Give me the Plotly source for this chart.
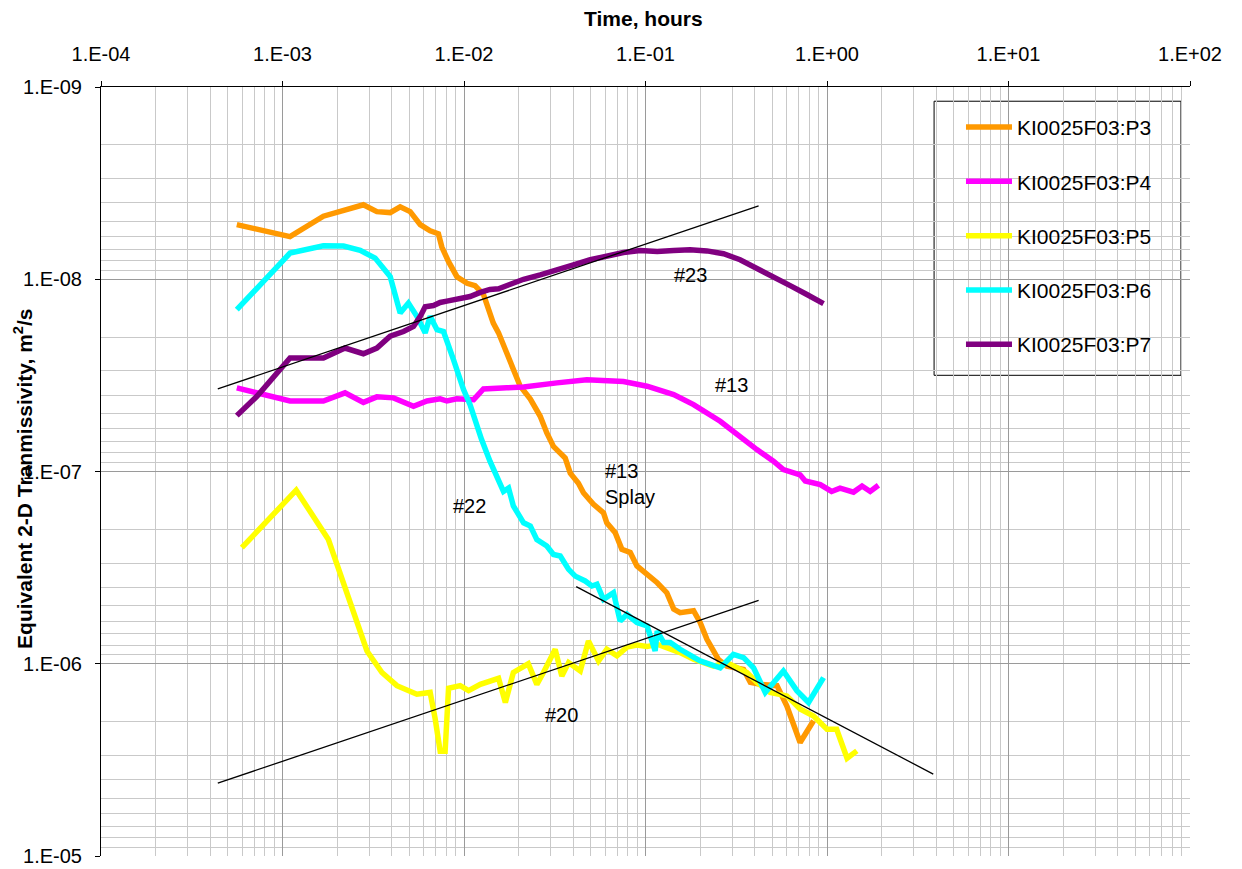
import math
import plotly.graph_objects as go

# ---- data: time (hours) vs equivalent 2-D transmissivity (m2/s) ----
p3_t = [5.6e-4, 1.1e-3, 1.68e-3, 2.26e-3, 2.79e-3, 3.31e-3, 3.92e-3, 4.45e-3, 5.05e-3, 5.74e-3,
        6.51e-3, 7.23e-3, 7.55e-3, 8.22e-3, 9.14e-3, 1.04e-2, 1.15e-2, 1.28e-2, 1.45e-2, 1.55e-2,
        1.72e-2, 2.04e-2, 2.32e-2, 2.63e-2, 2.86e-2, 3.11e-2, 3.61e-2, 3.85e-2, 4.27e-2, 4.55e-2,
        5.17e-2, 5.87e-2, 6.12e-2, 6.81e-2, 7.41e-2, 8.24e-2, 8.97e-2, 1.02e-1, 1.16e-1, 1.31e-1,
        1.43e-1, 1.55e-1, 1.84e-1, 2.0e-1, 2.18e-1, 2.52e-1, 2.81e-1, 3.47e-1, 3.78e-1, 4.29e-1,
        5.3e-1, 6.01e-1, 7.11e-1, 8.43e-1]
p3_T = [5.2e-9, 6.0e-9, 4.7e-9, 4.3e-9, 4.1e-9, 4.45e-9, 4.5e-9, 4.2e-9, 4.45e-9, 5.2e-9,
        5.6e-9, 5.8e-9, 6.8e-9, 8.1e-9, 9.7e-9, 1.05e-8, 1.08e-8, 1.2e-8, 1.69e-8, 1.9e-8,
        2.42e-8, 3.6e-8, 4.2e-8, 5.16e-8, 6.3e-8, 7.4e-8, 8.5e-8, 1.02e-7, 1.15e-7, 1.29e-7,
        1.48e-7, 1.64e-7, 1.85e-7, 2.08e-7, 2.54e-7, 2.64e-7, 3.1e-7, 3.43e-7, 3.79e-7, 4.27e-7,
        5.2e-7, 5.42e-7, 5.3e-7, 6.1e-7, 7.46e-7, 9.5e-7, 1.03e-6, 1.07e-6, 1.25e-6, 1.28e-6,
        1.3e-6, 1.66e-6, 2.57e-6, 1.98e-6]

p4_t = [5.6e-4, 1.1e-3, 1.68e-3, 2.21e-3, 2.79e-3, 3.31e-3, 4.09e-3, 5.27e-3, 6.25e-3, 7.39e-3,
        8.05e-3, 9.14e-3, 1.13e-2, 1.28e-2, 1.72e-2, 2.13e-2, 3.25e-2, 4.75e-2, 7.56e-2, 1.02e-1,
        1.43e-1, 1.84e-1, 2.58e-1, 3.19e-1, 4.11e-1, 5.07e-1, 5.75e-1, 7.11e-1, 7.59e-1, 9.18e-1,
        1.06, 1.18, 1.4, 1.56, 1.73, 1.92]
p4_T = [3.67e-8, 4.3e-8, 4.3e-8, 3.9e-8, 4.37e-8, 4.09e-8, 4.14e-8, 4.58e-8, 4.3e-8, 4.19e-8,
        4.3e-8, 4.19e-8, 4.23e-8, 3.72e-8, 3.67e-8, 3.63e-8, 3.46e-8, 3.33e-8, 3.4e-8, 3.6e-8,
        3.98e-8, 4.49e-8, 5.48e-8, 6.43e-8, 7.69e-8, 8.84e-8, 9.77e-8, 1.04e-7, 1.12e-7, 1.17e-7,
        1.27e-7, 1.22e-7, 1.28e-7, 1.19e-7, 1.27e-7, 1.18e-7]

p5_t = [5.97e-4, 1.19e-3, 1.79e-3, 2.92e-3, 3.53e-3, 4.27e-3, 5.5e-3, 6.51e-3, 6.94e-3, 7.39e-3,
        7.87e-3, 8.22e-3, 9.53e-3, 1.06e-2, 1.23e-2, 1.39e-2, 1.55e-2, 1.69e-2, 1.87e-2, 2.26e-2,
        2.52e-2, 2.74e-2, 3.18e-2, 3.46e-2, 3.77e-2, 4.37e-2, 4.85e-2, 5.51e-2, 6.12e-2, 6.96e-2,
        7.9e-2, 8.97e-2, 1.02e-1, 1.16e-1, 1.31e-1, 1.55e-1, 1.84e-1, 2.37e-1, 2.81e-1, 3.62e-1,
        4.11e-1, 4.86e-1, 6.01e-1, 7.11e-1, 8.43e-1, 1.0, 1.13, 1.29, 1.46]
p5_T = [2.49e-7, 1.25e-7, 2.26e-7, 8.58e-7, 1.11e-6, 1.3e-6, 1.44e-6, 1.41e-6, 1.94e-6, 2.85e-6,
        2.85e-6, 1.34e-6, 1.3e-6, 1.38e-6, 1.28e-6, 1.23e-6, 1.19e-6, 1.59e-6, 1.11e-6, 1.0e-6,
        1.28e-6, 1.11e-6, 8.41e-7, 1.16e-6, 9.86e-7, 1.09e-6, 7.61e-7, 9.67e-7, 8.41e-7, 9.1e-7,
        8.2e-7, 8.0e-7, 8.14e-7, 7.92e-7, 8.2e-7, 8.75e-7, 9.48e-7, 1.03e-6, 9.86e-7, 1.11e-6,
        1.25e-6, 1.41e-6, 1.47e-6, 1.72e-6, 1.87e-6, 2.19e-6, 2.19e-6, 3.1e-6, 2.84e-6]

p6_t = [5.6e-4, 1.1e-3, 1.68e-3, 2.17e-3, 2.68e-3, 3.24e-3, 3.92e-3, 4.45e-3, 4.94e-3, 5.5e-3,
        6.11e-3, 6.51e-3, 7.1e-3, 7.71e-3, 8.75e-3, 9.94e-3, 1.08e-2, 1.18e-2, 1.25e-2, 1.39e-2,
        1.49e-2, 1.65e-2, 1.76e-2, 1.87e-2, 2.13e-2, 2.32e-2, 2.52e-2, 2.86e-2, 3.11e-2, 3.39e-2,
        3.77e-2, 4.1e-2, 4.65e-2, 5.07e-2, 5.4e-2, 5.87e-2, 6.66e-2, 7.25e-2, 7.9e-2, 8.97e-2,
        1.02e-1, 1.13e-1, 1.16e-1, 1.26e-1, 1.37e-1, 1.55e-1, 2.0e-1, 2.58e-1, 3.05e-1, 3.47e-1,
        3.94e-1, 4.57e-1, 5.75e-1, 6.82e-1, 7.91e-1, 9.57e-1]
p6_T = [1.44e-8, 7.31e-9, 6.7e-9, 6.72e-9, 7.08e-9, 7.76e-9, 9.67e-9, 1.5e-8, 1.33e-8, 1.56e-8,
        1.9e-8, 1.56e-8, 1.83e-8, 1.87e-8, 2.62e-8, 3.75e-8, 4.49e-8, 5.93e-8, 6.82e-8, 8.84e-8,
        1.02e-7, 1.27e-7, 1.22e-7, 1.51e-7, 1.85e-7, 1.92e-7, 2.26e-7, 2.44e-7, 2.7e-7, 2.75e-7,
        3.23e-7, 3.5e-7, 3.71e-7, 3.94e-7, 3.86e-7, 4.62e-7, 4.27e-7, 6.0e-7, 5.53e-7, 6.1e-7,
        6.36e-7, 8.58e-7, 6.76e-7, 7.76e-7, 7.76e-7, 8.41e-7, 9.67e-7, 1.05e-6, 8.93e-7, 9.29e-7,
        1.05e-6, 1.41e-6, 1.09e-6, 1.38e-6, 1.59e-6, 1.18e-6]

p7_t = [5.6e-4, 7.23e-4, 1.1e-3, 1.68e-3, 2.21e-3, 2.79e-3, 3.31e-3, 3.92e-3, 4.64e-3, 5.27e-3,
        5.74e-3, 6.11e-3, 6.79e-3, 7.39e-3, 8.05e-3, 9.53e-3, 1.08e-2, 1.23e-2, 1.39e-2, 1.55e-2,
        1.72e-2, 2.13e-2, 2.63e-2, 3.25e-2, 4.01e-2, 4.96e-2, 6.12e-2, 7.56e-2, 9.35e-2, 1.16e-1,
        1.43e-1, 1.76e-1, 2.18e-1, 2.69e-1, 3.32e-1, 4.11e-1, 5.07e-1, 6.27e-1, 7.75e-1, 9.57e-1]
p7_T = [5.12e-8, 4.06e-8, 2.57e-8, 2.57e-8, 2.28e-8, 2.44e-8, 2.28e-8, 1.98e-8, 1.87e-8, 1.76e-8,
        1.56e-8, 1.39e-8, 1.37e-8, 1.32e-8, 1.3e-8, 1.25e-8, 1.23e-8, 1.17e-8, 1.13e-8, 1.12e-8,
        1.08e-8, 1.0e-8, 9.48e-9, 8.85e-9, 8.41e-9, 7.92e-9, 7.55e-9, 7.26e-9, 7.08e-9, 7.17e-9,
        7.08e-9, 7.03e-9, 7.12e-9, 7.37e-9, 7.92e-9, 8.75e-9, 9.67e-9, 1.08e-8, 1.2e-8, 1.34e-8]

# straight-line (power-law) fits, end points
fit23_t = [4.4e-4, 4.2e-1]
fit23_T = [3.72e-8, 4.15e-9]
fit20_t = [4.4e-4, 4.2e-1]
fit20_T = [4.18e-6, 4.68e-7]
fit13_t = [4.15e-2, 3.85]
fit13_T = [3.97e-7, 3.75e-6]

series_names = ["KI0025F03:P3", "KI0025F03:P4", "KI0025F03:P5", "KI0025F03:P6", "KI0025F03:P7"]
series_colors = ["#FF9900", "#FF00FF", "#FFFF00", "#00FFFF", "#800080"]

x_tick_vals = [1e-4, 1e-3, 1e-2, 1e-1, 1e0, 1e1, 1e2]
x_tick_text = ["1.E-04", "1.E-03", "1.E-02", "1.E-01", "1.E+00", "1.E+01", "1.E+02"]
y_tick_vals = [1e-9, 1e-8, 1e-7, 1e-6, 1e-5]
y_tick_text = ["1.E-09", "1.E-08", "1.E-07", "1.E-06", "1.E-05"]

# feature labels: text, time, transmissivity
label_text = ["#23", "#13", "#13<br>Splay", "#22", "#20"]
label_t = [1.76e-1, 2.97e-1, 5.85e-2, 1.07e-2, 3.45e-2]
label_T = [9.48e-9, 3.53e-8, 1.16e-7, 1.52e-7, 1.84e-6]
label_anchor = ["center", "center", "left", "center", "center"]

FONT = "Liberation Sans, Arial, sans-serif"

fig = go.Figure()

series = [(p3_t, p3_T), (p4_t, p4_T), (p5_t, p5_T), (p6_t, p6_T), (p7_t, p7_T)]
for (t, T), name, color in zip(series, series_names, series_colors):
    fig.add_trace(go.Scatter(
        x=t, y=T, mode="lines", name=name, legendgroup=name,
        line=dict(color=color, width=5.5),
    ))

for t, T in [(fit23_t, fit23_T), (fit20_t, fit20_T), (fit13_t, fit13_T)]:
    fig.add_trace(go.Scatter(
        x=t, y=T, mode="lines", showlegend=False,
        line=dict(color="black", width=1.3), hoverinfo="skip",
    ))

# minor grid positions (2..9 within each decade)
x_minor = [m * 10.0 ** e for e in range(-4, 2) for m in range(2, 10)]
y_minor = [m * 10.0 ** e for e in range(-9, -5) for m in range(2, 10)]

MAJOR_GRID = "#9a9a9a"
MINOR_GRID = "#c9c9c9"

fig.update_xaxes(
    type="log", range=[-4, 2], side="top", automargin=False,
    tickmode="array", tickvals=x_tick_vals, ticktext=x_tick_text,
    ticks="outside", ticklen=5, tickcolor="black", ticklabelstandoff=12,
    tickfont=dict(size=20, color="black", family=FONT),
    showline=True, linecolor="black", linewidth=1,
    showgrid=True, gridcolor=MAJOR_GRID, gridwidth=1, zeroline=False,
    minor=dict(tickmode="array", tickvals=x_minor, showgrid=True,
               gridcolor=MINOR_GRID, gridwidth=1, ticks=""),
)
fig.update_yaxes(
    type="log", range=[-5, -9], automargin=False,
    tickmode="array", tickvals=y_tick_vals, ticktext=y_tick_text,
    ticks="outside", ticklen=5, tickcolor="black", ticklabelstandoff=9,
    tickfont=dict(size=20, color="black", family=FONT),
    showline=True, linecolor="black", linewidth=1,
    showgrid=True, gridcolor=MAJOR_GRID, gridwidth=1, zeroline=False,
    minor=dict(tickmode="array", tickvals=y_minor, showgrid=True,
               gridcolor=MINOR_GRID, gridwidth=1, ticks=""),
)

annotations = []
for text, t, T, anchor in zip(label_text, label_t, label_T, label_anchor):
    annotations.append(dict(
        x=math.log10(t), y=math.log10(T), xref="x", yref="y",
        text=text, showarrow=False, xanchor=anchor, yanchor="middle", align="left",
        font=dict(size=20, color="black", family=FONT),
    ))

# axis titles
annotations.append(dict(
    x=0.4985, y=1.0895, xref="paper", yref="paper", text="<b>Time, hours</b>",
    showarrow=False, xanchor="center", yanchor="middle",
    font=dict(size=21, color="black", family=FONT),
))
annotations.append(dict(
    x=-0.0712, y=0.491, xref="paper", yref="paper",
    text="<b>Equivalent 2-D Tranmissivity, m<sup>2</sup>/s</b>",
    showarrow=False, xanchor="center", yanchor="middle", textangle=-90,
    font=dict(size=21, color="black", family=FONT),
))

fig.update_layout(
    width=1242, height=869,
    margin=dict(l=101, r=52, t=87, b=13, autoexpand=False),
    paper_bgcolor="white", plot_bgcolor="white",
    font=dict(family=FONT, color="black"),
    annotations=annotations,
    shapes=[dict(
        type="rect", xref="paper", yref="paper",
        x0=0.765, x1=0.9917, y0=0.6251, y1=0.9815,
        line=dict(color="black", width=1), fillcolor="white", layer="between",
    )],
    legend=dict(
        x=0.7897, y=0.9741, xanchor="left", yanchor="top",
        bgcolor="rgba(0,0,0,0)", borderwidth=0,
        font=dict(size=21, color="black", family=FONT),
        itemwidth=46, tracegroupgap=24, traceorder="grouped",
    ),
    showlegend=True,
)

fig.write_html("out.html")
